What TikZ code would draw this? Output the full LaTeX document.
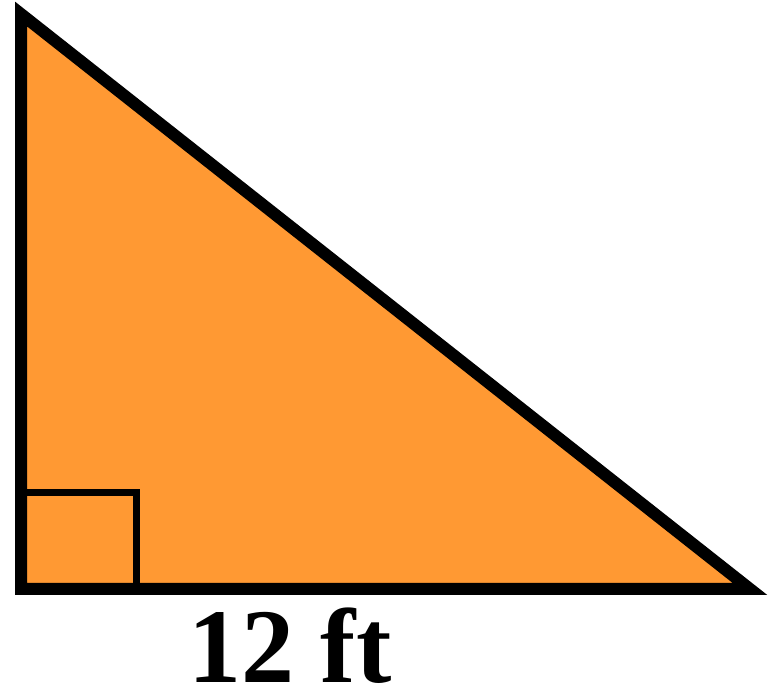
\documentclass[tikz,border=0pt]{standalone}
\usepackage{fontspec}
\setmainfont{Liberation Serif}
\usetikzlibrary{positioning}
\definecolor{fillorange}{RGB}{255, 153, 51}

\begin{document}
\begin{tikzpicture}[
    x=1pt, y=1pt,
    triangle/.style={
        draw=black, line width=12pt, line join=miter,
        fill=fillorange
    },
    rightangle/.style={draw=black, line width=7pt},
    sidelabel/.style={
        font=\fontsize{106}{106}\selectfont\bfseries,
        text=black, inner sep=0pt, text depth=0pt, anchor=base
    }
]

% Frame
\useasboundingbox (0,0) rectangle (770,690);

% Corners
\coordinate (top) at (21,676);
\coordinate (corner) at (21,101);
\coordinate (tip) at (750,101);

% Triangle
\path[triangle] (top) -- (corner) -- (tip) -- cycle;

% Right-angle mark
\draw[rightangle] (corner) rectangle (136.5,197);

% Label below
\node[sidelabel] (base) at (290,8) {12 ft};

\end{tikzpicture}
\end{document}
